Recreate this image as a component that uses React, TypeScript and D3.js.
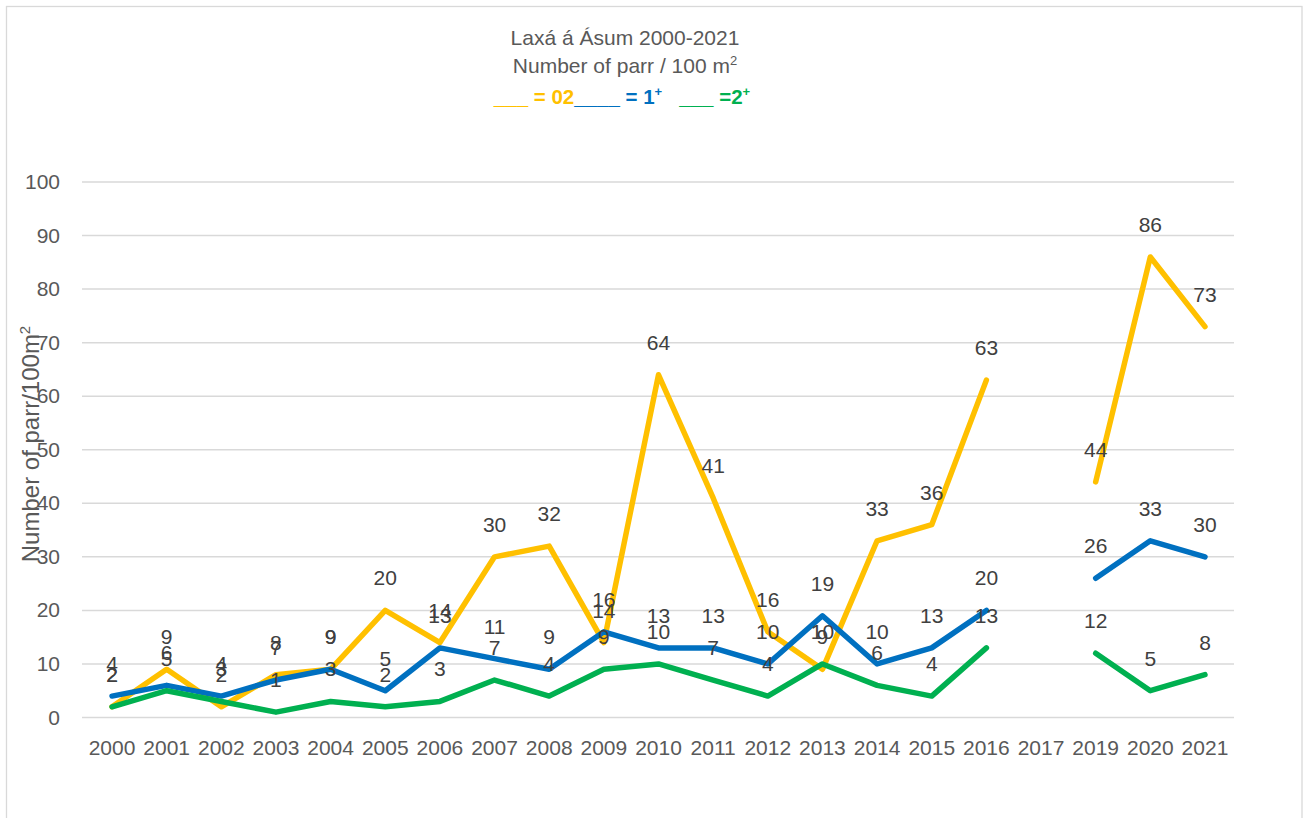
import React from "react";
import * as d3 from "d3";

const years: string[] = ["2000","2001","2002","2003","2004","2005","2006","2007","2008","2009","2010","2011","2012","2013","2014","2015","2016","2017","2019","2020","2021"];
const parr0: (number | null)[] = [2,9,2,8,9,20,14,30,32,14,64,41,16,9,33,36,63,null,44,86,73];
const parr1: (number | null)[] = [4,6,4,7,9,5,13,11,9,16,13,13,10,19,10,13,20,null,26,33,30];
const parr2: (number | null)[] = [2,5,3,1,3,2,3,7,4,9,10,7,4,10,6,4,13,null,12,5,8];
const yTicks: number[] = [0,10,20,30,40,50,60,70,80,90,100];

const series = [
  { name: "0+", values: parr0, color: "#FFC000" },
  { name: "1+", values: parr1, color: "#0070C0" },
  { name: "2+", values: parr2, color: "#00B050" },
];

const FONT = "'Liberation Sans', Arial, sans-serif";

export default function App() {
  const W = 1306, H = 818;
  const x = d3.scaleBand<string>().domain(years).range([84.7, 1232.3]).padding(0);
  const y = d3.scaleLinear().domain([0, 100]).range([717.5, 182]);
  const cx = (c: string) => (x(c) as number) + x.bandwidth() / 2;
  const line = d3.line<number | null>()
    .defined((d) => d != null)
    .x((_, i) => cx(years[i]))
    .y((d) => y(d as number));

  return (
    <svg width={W} height={H} style={{ position: "absolute", left: 0, top: 0, display: "block", background: "#fff" }} fontFamily={FONT}>
      <rect x={6.5} y={6.5} width={1295.5} height={830} fill="#fff" stroke="#d9d9d9" strokeWidth={1.3} />
      {/* title */}
      <text x={625} y={45} textAnchor="middle" fontSize={21} fill="#595959">Laxá á Ásum 2000-2021</text>
      <text x={625} y={73} textAnchor="middle" fontSize={21} fill="#595959">
        Number of parr / 100 m<tspan dy={-8} fontSize={13}>2</tspan>
      </text>
      <text x={622} y={104} textAnchor="middle" fontSize={20.5} fontWeight="bold">
        <tspan fill="#FFC000">___ = 02</tspan>
        <tspan fill="#0070C0">____ = 1</tspan>
        <tspan fill="#0070C0" dy={-8} fontSize={13}>+</tspan>
        <tspan fill="#00B050" dy={8} xmlSpace="preserve">{"   ___ =2"}</tspan>
        <tspan fill="#00B050" dy={-8} fontSize={13}>+</tspan>
      </text>
      {/* gridlines */}
      {yTicks.map((t) => (
        <line key={"g" + t} x1={82} x2={1234} y1={y(t)} y2={y(t)} stroke="#d9d9d9" strokeWidth={1.5} />
      ))}
      {/* y tick labels */}
      {yTicks.map((t) => (
        <text key={"yt" + t} x={60} y={y(t) + 7} textAnchor="end" fontSize={21} fill="#595959">{t}</text>
      ))}
      {/* x tick labels */}
      {years.map((c) => (
        <text key={"xt" + c} x={cx(c)} y={755} textAnchor="middle" fontSize={21} fill="#595959">{c}</text>
      ))}
      {/* y axis title */}
      <text transform={`translate(39,444) rotate(-90)`} textAnchor="middle" fontSize={24} fill="#595959">
        Number of parr/100m<tspan dy={-9} fontSize={15}>2</tspan>
      </text>
      {/* lines */}
      {series.map((s) => (
        <path key={"l" + s.name} d={line(s.values) || ""} fill="none" stroke={s.color} strokeWidth={5.5} strokeLinecap="round" strokeLinejoin="round" />
      ))}
      {/* data labels */}
      {series.map((s) =>
        s.values.map((v, i) =>
          v == null ? null : (
            <text key={"d" + s.name + i} x={cx(years[i])} y={y(v) - 25} textAnchor="middle" fontSize={21} fill="#404040">{v}</text>
          )
        )
      )}
    </svg>
  );
}
